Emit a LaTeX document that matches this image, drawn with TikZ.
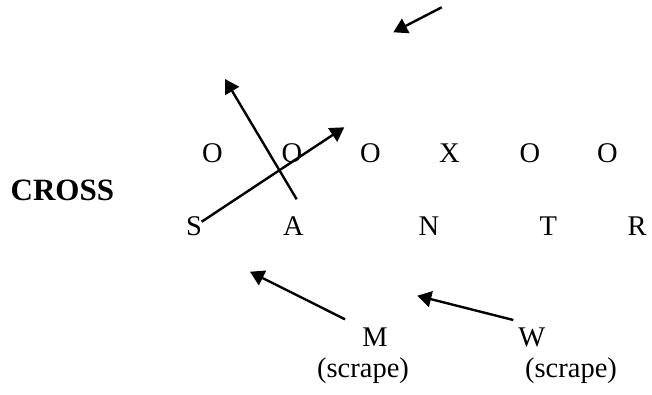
\documentclass[tikz,border=0pt]{standalone}
\usepackage{fontspec}
\setmainfont{Liberation Serif}
\usetikzlibrary{arrows.meta}
\begin{document}
\begin{tikzpicture}[x=1pt,y=-1pt,
  letter/.style={anchor=base,inner sep=0pt,font=\fontsize{28.5}{32}\selectfont},
  title/.style={anchor=base,inner sep=0pt,font=\fontsize{31}{36}\selectfont\bfseries},
  arr/.style={line width=2.4pt,-{Triangle[length=14pt,width=16pt]}}]
\useasboundingbox (0,0) rectangle (652,394);
% title
\node[title] (cross) at (62.4,200) {CROSS};
% row 1
\node[letter] (o1) at (212.5,162) {O};
\node[letter] (o2) at (292,162) {O};
\node[letter] (o3) at (370.5,162) {O};
\node[letter] (x1) at (449.5,162) {X};
\node[letter] (o4) at (530,162) {O};
\node[letter] (o5) at (607.3,162) {O};
% row 2
\node[letter] (s) at (194,235) {S};
\node[letter] (a) at (293.5,235) {A};
\node[letter] (n) at (429,235) {N};
\node[letter] (t) at (548.3,235) {T};
\node[letter] (r) at (637,235) {R};
% bottom labels
\node[letter] (m) at (375,346) {M};
\node[letter] (ms) at (363,377) {(scrape)};
\node[letter] (w) at (531.7,346) {W};
\node[letter] (ws) at (571,377) {(scrape)};
% arrow end points
\coordinate (topS) at (441.7,7.3);
\coordinate (topE) at (393.3,32.3);
\coordinate (aS) at (296.7,199.3);
\coordinate (aE) at (225,79);
\coordinate (sS) at (201.7,221.7);
\coordinate (sE) at (344.3,127.3);
\coordinate (mS) at (345,319.3);
\coordinate (mE) at (250,271.7);
\coordinate (wS) at (513.3,320);
\coordinate (wE) at (417.3,295.7);
% arrows
\draw[arr] (topS) -- (topE);
\draw[arr] (aS) -- (aE);
\draw[arr] (sS) -- (sE);
\draw[arr] (mS) -- (mE);
\draw[arr] (wS) -- (wE);
\end{tikzpicture}
\end{document}
